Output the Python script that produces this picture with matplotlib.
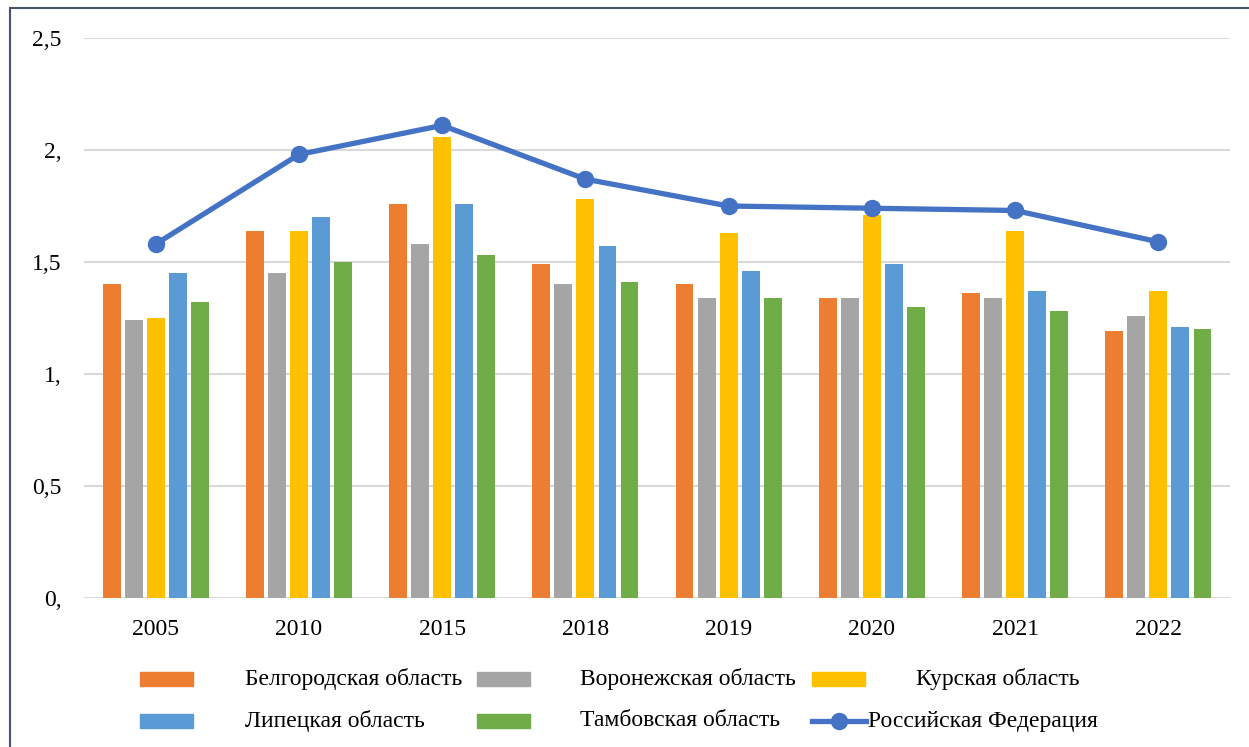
import numpy as np
import matplotlib.pyplot as plt
from matplotlib.patches import Rectangle
from matplotlib.lines import Line2D

plt.rcParams['font.family'] = ['Liberation Serif', 'DejaVu Serif']

years = ['2005', '2010', '2015', '2018', '2019', '2020', '2021', '2022']
belgorod = [1.40, 1.64, 1.76, 1.49, 1.40, 1.34, 1.36, 1.19]
voronezh = [1.24, 1.45, 1.58, 1.40, 1.34, 1.34, 1.34, 1.26]
kursk = [1.25, 1.64, 2.06, 1.78, 1.63, 1.71, 1.64, 1.37]
lipetsk = [1.45, 1.70, 1.76, 1.57, 1.46, 1.49, 1.37, 1.21]
tambov = [1.32, 1.50, 1.53, 1.41, 1.34, 1.30, 1.28, 1.20]
russia = [1.58, 1.98, 2.11, 1.87, 1.75, 1.74, 1.73, 1.59]

names = ['Белгородская область', 'Воронежская область', 'Курская область',
         'Липецкая область', 'Тамбовская область', 'Российская Федерация']
colors = ['#ED7D31', '#A5A5A5', '#FFC000', '#5B9BD5', '#70AD47']
yticks = [0, 0.5, 1, 1.5, 2, 2.5]
ytick_labels = ['0,', '0,5', '1,', '1,5', '2,', '2,5']

fig = plt.figure(figsize=(12.49, 7.47), dpi=100)
ax = fig.add_axes([0.0673, 0.1995, 0.9175, 0.7496])

x = np.arange(len(years))
slot = 0.154
bw = 0.125
series = [belgorod, voronezh, kursk, lipetsk, tambov]
for i, s in enumerate(series):
    ax.bar(x + (i - 2) * slot, s, width=bw, color=colors[i], zorder=2)

ax.plot(x, russia, color='#4472C4', lw=3.8, marker='o', markersize=11.5, zorder=3,
        solid_capstyle='round')

ax.set_xlim(-0.5, len(years) - 0.5)
ax.set_ylim(0, 2.5)
ax.set_yticks(yticks)
ax.set_yticklabels(ytick_labels)
ax.set_xticks(x)
ax.set_xticklabels(years)
ax.tick_params(length=0, labelsize=17, colors='#000000')
ax.tick_params(axis='y', pad=16)
ax.tick_params(axis='x', pad=15)
ax.grid(axis='y', color='#D9D9D9', lw=1.5, zorder=0)
for sp in ax.spines.values():
    sp.set_visible(False)

# legend built by hand to follow the original layout
W, H = 1249, 747
def fx(px):
    return px / W
def fy(py):
    return 1 - py / H

hx = [140, 477, 812, 140, 477, 812]
tx = [245, 580, 916, 245, 580, 868]
ty = [679, 679, 679, 721, 721, 721]
for i in range(6):
    if i < 5:
        fig.add_artist(Rectangle((fx(hx[i]), fy(ty[i] + 7)), 53 / W, 14 / H,
                                 transform=fig.transFigure, color=colors[i]))
    else:
        fig.add_artist(Line2D([fx(hx[i]), fx(hx[i] + 54)], [fy(ty[i]), fy(ty[i])],
                              transform=fig.transFigure, color='#4472C4', lw=3.8))
        fig.add_artist(Line2D([fx(hx[i] + 27)], [fy(ty[i])], transform=fig.transFigure,
                              color='#4472C4', marker='o', markersize=11.5))
    fig.text(fx(tx[i]), fy(ty[i]), names[i], fontsize=17, va='center', ha='left')

# outer frame
fig.add_artist(Rectangle((fx(10), -0.1), 1.2, fy(8) + 0.1, transform=fig.transFigure,
                         fill=False, edgecolor='#44546A', lw=1.5))

fig.savefig('out.png', dpi=100)
